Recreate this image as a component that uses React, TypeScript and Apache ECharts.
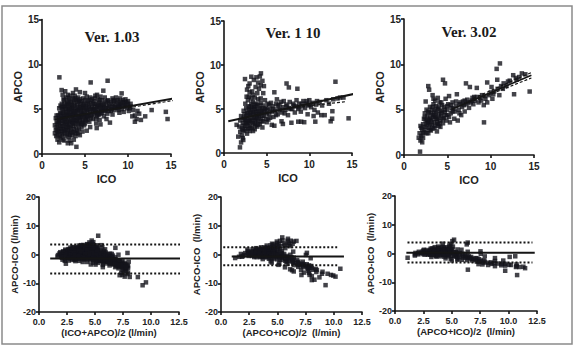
import React, { useEffect, useRef } from "react";
import * as echarts from "echarts";

// Paired measurements (ICO, APCO) in l/min for each software version
const ver103: number[][] = [
  [1.5, 2.3], [1.6, 2.7], [1.5, 3.2], [1.7, 3.6], [1.6, 4.0], [1.8, 1.6], [1.8, 2.1], [1.9, 2.9], [1.8, 3.4], [1.9, 4.3],
  [2.0, 1.3], [2.0, 2.5], [2.1, 3.1], [2.0, 3.8], [2.1, 4.6], [2.0, 5.1], [2.02, 8.55], [2.2, 1.8], [2.3, 2.2], [2.2, 2.8],
  [2.4, 3.4], [2.3, 4.0], [2.2, 4.5], [2.4, 5.0], [2.3, 5.6], [2.5, 6.1], [2.4, 6.6], [2.28, 7.13], [2.6, 1.5], [2.7, 2.0],
  [2.6, 2.5], [2.8, 3.0], [2.7, 3.6], [2.6, 4.2], [2.8, 4.7], [2.7, 5.3], [2.9, 5.8], [2.8, 6.3], [2.7, 7.0], [3.0, 1.2],
  [3.1, 1.9], [3.0, 2.4], [3.2, 2.9], [3.1, 3.3], [3.0, 3.8], [3.2, 4.4], [3.1, 4.9], [3.3, 5.4], [3.2, 6.0], [3.0, 6.6],
  [3.4, 1.2], [3.5, 2.1], [3.4, 2.6], [3.6, 3.1], [3.5, 3.6], [3.4, 4.1], [3.6, 4.6], [3.5, 5.2], [3.7, 5.7], [3.6, 6.2],
  [3.9, 2.0], [3.8, 2.5], [4.0, 3.0], [3.9, 3.5], [3.8, 4.0], [4.0, 4.5], [3.9, 5.0], [4.1, 5.5], [4.0, 6.0], [3.95, 7.2],
  [4.0, 0.8], [4.2, 2.3], [4.3, 2.8], [4.2, 3.3], [4.4, 3.8], [4.3, 4.3], [4.5, 4.8], [4.4, 5.3], [4.3, 5.9], [4.6, 3.0],
  [4.7, 3.6], [4.6, 4.1], [4.8, 4.6], [4.7, 5.1], [4.9, 5.6], [4.8, 6.2], [5.0, 3.4], [5.1, 3.9], [5.0, 4.4], [5.2, 4.9],
  [5.1, 5.4], [5.3, 5.9], [5.2, 6.4], [5.5, 3.6], [5.4, 4.2], [5.6, 4.7], [5.5, 5.2], [5.7, 5.7], [5.66, 7.98], [5.6, 6.3],
  [5.9, 3.9], [6.0, 4.4], [5.9, 4.9], [6.1, 5.4], [6.0, 5.9], [6.2, 6.5], [6.36, 2.89], [6.3, 3.4], [6.4, 4.2], [6.5, 4.7],
  [6.4, 5.2], [6.6, 5.7], [6.5, 6.1], [6.7, 3.8], [6.8, 4.5], [6.9, 5.0], [6.8, 5.5], [7.0, 6.0], [7.13, 7.06], [7.2, 4.2],
  [7.3, 4.8], [7.2, 5.3], [7.4, 5.8], [7.3, 6.3], [7.63, 8.17], [7.6, 4.5], [7.7, 5.1], [7.8, 5.6], [7.7, 6.0], [7.9, 3.5],
  [8.0, 4.8], [8.1, 5.3], [8.0, 5.8], [8.2, 6.2], [8.4, 4.9], [8.5, 5.4], [8.4, 5.9], [8.6, 6.3], [8.8, 5.1], [8.9, 5.6],
  [8.8, 6.0], [9.0, 5.3], [9.2, 5.8], [9.26, 6.76], [9.3, 5.0], [9.5, 5.5], [9.4, 6.0], [9.7, 5.3], [9.8, 5.8], [10.0, 5.5],
  [10.2, 5.1], [10.6, 4.9], [11.1, 4.8], [12.75, 4.9], [14.4, 4.7], [14.6, 3.9],
  [2.1, 2.0], [2.5, 2.8], [2.5, 3.7], [2.4, 4.6], [2.6, 5.6], [2.9, 2.2], [2.9, 3.3], [2.9, 4.3], [3.0, 5.1], [3.3, 2.4],
  [3.3, 3.6], [3.3, 4.7], [3.4, 5.8], [3.7, 2.8], [3.7, 3.8], [3.7, 4.8], [3.8, 6.5], [4.1, 2.6], [4.1, 3.7], [4.2, 4.9],
  [4.2, 6.3], [4.5, 3.3], [4.5, 4.4], [4.5, 5.6], [4.9, 3.2], [4.9, 4.2], [4.9, 5.1], [5.3, 3.8], [5.3, 4.6], [5.3, 5.6],
  [5.8, 4.4], [5.8, 5.2], [6.2, 4.7], [6.2, 5.6], [6.6, 4.4], [6.6, 5.3], [7.0, 4.6], [7.0, 5.5], [7.5, 5.4], [8.3, 5.6],
  [8.7, 5.8], [9.1, 5.5], [9.6, 5.8], [10.0, 5.9], [10.3, 5.6], [4.4, 6.9], [3.6, 6.8], [5.0, 6.8], [6.4, 6.6], [6.8, 6.4],
  [6.3, 3.9], [6.35, 4.6], [9.5, 4.7], [10.1, 4.8], [11.5, 3.8], [12.0, 4.2], [10.8, 4.3],
  [1.7, 3.0], [1.9, 2.5], [2.0, 3.4], [2.2, 4.1], [2.3, 5.2], [2.5, 4.2], [2.5, 5.2], [2.6, 6.0], [2.8, 4.0], [2.8, 5.0],
  [3.0, 4.5], [3.0, 5.6], [3.1, 6.2], [3.2, 3.7], [3.3, 6.5], [3.5, 4.3], [3.5, 5.5], [3.6, 3.4], [3.8, 4.4], [3.8, 5.4],
  [3.9, 6.2], [4.0, 3.8], [4.1, 4.8], [4.2, 5.8], [4.4, 4.1], [4.4, 6.1], [4.6, 4.6], [4.6, 5.9], [4.8, 3.8], [4.8, 5.3],
  [5.0, 6.0], [5.2, 4.2], [5.4, 5.0], [5.5, 6.0], [5.7, 4.0], [5.8, 6.1], [6.0, 5.0], [6.1, 6.2], [6.3, 5.0], [6.5, 5.5],
  [6.7, 6.0], [6.9, 4.8], [7.1, 5.2], [7.4, 4.9], [7.6, 5.9], [7.8, 4.8], [8.1, 5.0], [8.3, 6.0], [8.6, 5.2], [8.9, 4.9],
  [9.1, 6.2], [9.4, 5.3], [9.7, 6.1], [9.9, 5.1], [10.3, 5.3], [9.0, 4.6], [8.2, 4.4], [7.5, 3.9], [6.8, 3.3], [5.6, 3.0],
  [5.2, 2.6], [4.7, 2.5], [4.4, 2.1], [3.7, 1.6], [3.2, 1.5], [2.4, 1.6], [10.5, 4.2], [11.0, 3.9], [11.3, 4.5], [10.8, 3.6],
  [1.65, 2.0], [1.75, 2.6], [1.7, 4.3], [1.95, 3.6], [2.05, 4.0], [2.15, 5.4], [2.2, 3.7], [2.35, 2.6], [2.35, 3.1], [2.45, 2.3],
  [2.55, 3.2], [2.55, 4.7], [2.65, 3.9], [2.75, 2.7], [2.75, 4.4], [2.85, 5.4], [2.85, 3.5], [2.95, 2.7], [3.05, 3.0], [3.05, 4.2],
  [3.15, 5.6], [3.25, 2.1], [3.25, 5.0], [3.35, 3.1], [3.35, 4.4], [3.45, 5.0], [3.55, 2.4], [3.55, 3.9], [3.65, 5.2], [3.75, 3.4],
  [3.75, 6.0], [3.85, 4.7], [3.95, 2.3], [4.05, 4.2], [4.15, 5.2], [4.25, 4.0], [4.35, 3.5], [4.35, 5.0], [4.55, 5.2], [4.65, 3.4],
  [4.75, 4.3], [4.75, 5.6], [4.95, 4.8], [5.05, 3.7], [5.15, 5.1], [5.35, 4.3], [5.45, 5.5], [5.65, 4.3], [5.75, 5.0], [5.95, 5.6],
  [6.15, 4.9], [6.45, 4.4], [6.75, 5.1], [7.15, 5.6], [7.45, 5.1], [7.9, 5.3], [8.4, 5.2], [8.9, 5.3], [9.3, 5.7], [9.9, 5.6],
];

const ver110: number[][] = [
  [1.48, 3.2], [1.67, 1.86], [1.87, 0.64], [2.26, 1.48], [1.9, 2.4], [2.0, 1.2], [2.1, 2.0], [2.2, 1.7],
  [2.46, 8.4], [3.2, 8.67], [3.8, 8.6], [4.33, 9.05], [4.2, 8.7], [4.5, 8.2], [4.68, 7.6], [2.85, 7.6], [2.65, 6.4], [2.7, 7.2],
  [3.0, 7.9], [3.5, 8.3], [4.0, 8.0], [3.3, 7.0], [4.1, 7.3], [3.9, 6.8], [4.6, 6.8], [3.0, 6.9], [2.8, 6.0], [3.6, 6.3],
  [1.8, 3.0], [1.9, 3.7], [2.0, 4.2], [2.1, 2.8], [2.2, 3.4], [2.3, 4.0], [2.3, 4.8], [2.4, 2.5], [2.5, 3.1], [2.5, 3.7],
  [2.4, 4.4], [2.6, 5.1], [2.5, 5.6], [2.7, 2.2], [2.8, 2.8], [2.7, 3.4], [2.8, 4.0], [2.7, 4.6], [2.9, 5.3], [3.0, 2.5],
  [3.0, 3.1], [3.1, 3.7], [3.0, 4.3], [3.1, 4.9], [3.2, 5.6], [3.2, 6.2], [3.3, 2.9], [3.4, 3.4], [3.3, 4.0], [3.4, 4.6],
  [3.5, 5.2], [3.4, 5.8], [3.6, 2.7], [3.7, 3.2], [3.6, 3.8], [3.7, 4.4], [3.8, 5.0], [3.7, 5.6], [3.9, 3.0], [4.0, 3.6],
  [3.9, 4.2], [4.0, 4.8], [4.1, 5.4], [4.0, 6.1], [4.2, 3.3], [4.3, 3.9], [4.2, 4.5], [4.4, 5.1], [4.3, 5.7], [4.5, 2.9],
  [4.6, 3.6], [4.5, 4.2], [4.7, 4.8], [4.6, 5.4], [4.8, 6.0], [4.9, 3.9], [5.0, 4.5], [4.9, 5.1], [5.1, 5.6],
  [5.2, 3.8], [5.3, 4.4], [5.4, 5.0], [5.3, 5.5], [5.6, 3.2], [5.6, 4.7], [5.7, 5.3], [5.9, 6.9], [5.8, 4.1], [6.0, 4.8],
  [6.1, 5.6], [6.2, 6.1], [6.3, 4.4], [6.4, 5.0], [6.5, 5.5], [6.74, 3.6], [6.8, 4.6], [6.9, 5.2], [7.0, 5.9], [7.33, 7.9],
  [7.6, 7.45], [7.2, 4.9], [7.3, 5.5], [7.5, 4.3], [7.6, 5.1], [7.7, 5.8], [7.9, 3.44], [8.0, 5.0], [8.1, 5.6], [8.3, 4.6],
  [8.4, 5.3], [8.5, 6.0], [8.6, 7.3], [8.7, 3.56], [8.7, 5.0], [8.8, 5.6], [9.04, 3.56], [9.0, 4.7], [9.2, 5.3], [9.3, 5.9],
  [9.4, 3.5], [9.5, 5.1], [9.6, 5.6], [9.8, 4.4], [9.9, 5.4], [10.0, 6.0], [10.2, 5.2], [10.4, 5.7], [10.6, 4.9], [10.7, 3.56],
  [10.5, 4.2], [10.8, 5.5], [11.0, 4.6], [11.4, 4.3], [11.2, 5.8], [11.5, 5.4], [11.8, 4.3], [12.0, 6.0], [12.3, 5.6], [12.5, 3.6],
  [12.67, 3.9], [12.7, 4.75], [12.8, 6.1], [13.06, 8.1], [13.3, 6.2], [13.6, 6.3], [14.0, 6.3], [14.6, 3.94], [6.9, 3.3], [5.9, 3.1],
  [3.1, 4.4], [3.5, 4.0], [2.9, 3.6], [3.8, 3.7], [4.4, 4.6], [3.3, 5.1], [2.6, 4.2], [4.1, 4.1], [3.6, 5.0], [2.2, 2.6],
  [2.3, 3.1], [2.4, 3.8], [2.6, 2.7], [2.6, 3.5], [2.8, 3.3], [2.8, 4.5], [2.9, 4.9], [3.0, 3.7], [3.1, 2.8], [3.1, 5.3],
  [3.2, 4.6], [3.3, 3.5], [3.4, 2.5], [3.5, 4.6], [3.6, 3.3], [3.6, 5.4], [3.8, 4.0], [3.8, 4.6], [3.9, 5.5], [4.0, 3.2],
  [4.1, 4.4], [4.2, 5.0], [4.3, 6.2], [4.4, 3.6], [4.5, 4.8], [4.7, 4.2], [4.8, 5.0], [5.0, 3.5], [5.1, 4.9], [5.4, 4.0],
  [5.5, 5.7], [5.8, 5.0], [6.1, 4.3], [6.3, 5.4], [6.6, 4.9], [6.7, 5.8], [7.1, 4.5], [7.4, 5.3], [7.8, 5.0], [8.2, 5.4],
  [8.8, 5.2], [9.1, 5.6], [9.7, 5.9], [10.1, 5.5], [10.9, 5.9], [2.9, 6.4], [3.4, 6.6], [3.7, 7.5], [4.3, 7.7],
];

const ver302: number[][] = [
  [1.85, 0.37], [1.7, 1.9], [1.8, 2.4], [1.9, 1.6], [2.0, 2.1], [2.1, 1.4], [2.2, 1.9], [2.3, 2.5], [1.9, 3.2], [2.0, 3.0],
  [2.1, 2.8], [2.2, 3.4], [2.3, 4.0], [2.4, 4.6], [2.5, 2.8], [2.6, 3.3], [2.5, 3.8], [2.7, 4.3], [2.6, 5.0], [2.8, 2.4],
  [2.9, 3.0], [2.8, 3.6], [3.0, 4.1], [2.9, 4.7], [3.0, 5.3], [2.8, 7.6], [2.9, 7.2], [3.1, 2.7], [3.2, 3.3], [3.1, 3.9],
  [3.3, 4.4], [3.2, 5.0], [3.4, 5.6], [3.4, 6.2], [3.5, 3.0], [3.5, 3.6], [3.6, 4.2], [3.5, 4.8], [3.7, 5.4], [3.6, 6.0],
  [3.8, 2.6], [3.9, 3.4], [3.8, 4.0], [4.0, 4.5], [3.9, 5.1], [4.1, 5.8], [4.2, 3.1], [4.2, 3.8], [4.3, 4.3], [4.2, 4.9],
  [4.4, 5.5], [4.5, 8.3], [4.73, 7.9], [4.5, 3.5], [4.6, 4.1], [4.7, 4.7], [4.6, 5.3], [4.8, 6.2], [4.9, 3.8], [5.0, 4.4],
  [5.0, 5.0], [5.1, 5.6], [5.2, 6.5], [3.3, 6.6], [3.9, 6.3], [2.5, 5.9],
  [5.3, 3.6], [5.4, 4.6], [5.5, 5.2], [5.6, 5.8], [5.8, 4.0], [5.9, 4.8], [6.0, 5.4], [6.1, 6.7], [6.2, 3.8], [6.3, 5.0],
  [6.4, 5.6], [6.6, 4.4], [6.7, 5.3], [6.8, 5.9], [7.0, 4.8], [7.15, 7.9], [7.2, 5.6], [7.3, 6.1], [7.6, 7.5], [7.5, 5.2],
  [7.7, 5.8], [7.9, 6.3], [8.0, 5.6], [8.2, 6.0], [8.4, 7.4], [8.4, 6.4], [8.6, 5.8], [8.8, 6.3], [9.0, 6.6], [9.23, 3.6],
  [9.2, 5.5], [9.4, 6.2], [9.6, 5.8], [9.8, 6.6], [10.0, 6.9], [10.2, 6.2], [10.4, 7.0], [10.69, 9.5], [10.76, 8.3], [11.07, 10.1],
  [10.8, 7.3], [11.0, 6.6], [11.2, 7.6], [11.5, 7.9], [11.8, 7.6], [12.0, 8.1], [12.6, 8.8], [12.7, 6.7], [12.9, 8.5], [13.3, 8.6],
  [14.0, 8.9], [14.5, 7.0], [9.6, 8.0], [10.1, 7.5], [3.4, 4.2], [3.0, 3.4], [2.7, 3.8], [4.0, 3.2], [3.7, 4.6], [4.4, 4.8],
  [2.2, 2.4], [2.4, 3.1], [2.4, 4.2], [2.6, 2.4], [2.7, 3.5], [2.8, 4.8], [2.9, 3.9], [3.0, 2.8], [3.1, 4.6], [3.2, 3.7],
  [3.3, 2.9], [3.3, 5.3], [3.5, 4.4], [3.6, 3.2], [3.7, 4.0], [3.7, 5.0], [3.8, 3.6], [4.0, 4.1], [4.0, 5.3], [4.1, 3.5],
  [4.3, 4.6], [4.3, 5.8], [4.5, 4.0], [4.7, 5.0], [4.8, 4.4], [5.0, 5.4], [5.2, 4.2], [5.4, 5.5], [5.7, 5.1], [6.0, 5.9],
  [6.5, 5.8], [7.0, 6.0], [7.4, 5.8], [7.8, 6.0], [8.1, 6.4], [8.9, 6.0], [9.3, 6.5], [10.3, 6.7], [11.4, 7.3], [12.2, 8.2],
  [13.0, 8.3], [13.6, 9.0], [6.4, 4.6], [6.9, 5.5], [5.6, 4.8],
];

// Regression lines [ICO, APCO] end points
const fit103 = [[1.5, 3.86], [17.4, 6.55]];
const fit103Band = [[10.0, 5.15], [17.4, 6.3]];
const fit110 = [[0.5, 3.6], [16.1, 6.9]];
const fit110Band = [[8.0, 5.15], [14.4, 5.85]];
const fit302 = [[5.5, 5.05], [14.7, 8.8]];
const fit302Upper = [[8.0, 6.25], [14.7, 9.1]];
const fit302Lower = [[8.0, 5.95], [14.7, 8.5]];

// Bland-Altman bias and 95% limits of agreement: [bias, upper, lower]
const limits103 = [-1.4, 3.5, -6.6];
const limits110 = [-0.7, 2.5, -3.7];
const limits302 = [0.3, 3.8, -3.1];
// x-extent of bias line and limit lines
const span103 = { bias: [1.0, 13.7], lim: [1.0, 12.6] };
const span110 = { bias: [0.95, 10.9], lim: [0.2, 10.3] };
const span302 = { bias: [1.0, 12.3], lim: [1.1, 12.1] };

const titles = ["Ver. 1.03", "Ver. 1 10", "Ver. 3.02"];
const baXNames = ["(ICO+APCO)/2 (l/min)", "(APCO+ICO)/2  (l/min)", "(APCO+ICO)/2  (l/min)"];
const baYNames = ["APCO-ICO (l/min)", "APCO-ICO  (l/min)", "APCO-ICO  (l/min)"];

const blandAltman = (pts: number[][]) => pts.map(([ico, apco]) => [(ico + apco) / 2, apco - ico]);

const INK = "#151515";
const DOT = "#14141c";
const SANS = "Liberation Sans, Arial, sans-serif";

function axisBase(fontSize: number, margin: number) {
  return {
    axisLine: { show: true, onZero: false, lineStyle: { color: INK, width: 1.6 } },
    axisTick: { show: true, length: 3, lineStyle: { color: INK, width: 1.6 } },
    axisLabel: { color: "#222", fontWeight: "bold", fontFamily: SANS, fontSize, margin },
    splitLine: { show: false },
    nameLocation: "middle",
  };
}

export default function App() {
  const ref = useRef<HTMLDivElement>(null);

  useEffect(() => {
    if (!ref.current) return;
    const chart = echarts.init(ref.current, null, { renderer: "svg" });

    const grids = [
      { left: 42, top: 19.5, width: 129, height: 134.5 },
      { left: 224, top: 21, width: 128, height: 132 },
      { left: 404, top: 19, width: 130, height: 136 },
      { left: 39, top: 197, width: 140, height: 115 },
      { left: 221, top: 197, width: 141, height: 115 },
      { left: 395, top: 196, width: 142, height: 115 },
    ];
    const topYGap = [18, 17, 18];
    const baYGap = [14, 15, 15];

    const xAxis: any[] = [];
    const yAxis: any[] = [];
    for (let i = 0; i < 3; i++) {
      xAxis.push({
        ...axisBase(10, 6), gridIndex: i, type: "value", min: 0, max: 15, interval: 5,
        name: "ICO", nameGap: 19,
        nameTextStyle: { fontWeight: "bold", fontFamily: SANS, fontSize: 11, color: "#222" },
      });
      yAxis.push({
        ...axisBase(10, 3), gridIndex: i, type: "value", min: 0, max: 15, interval: 5,
        name: "APCO", nameGap: topYGap[i],
        nameTextStyle: { fontWeight: "bold", fontFamily: SANS, fontSize: 11, color: "#222" },
      });
    }
    for (let i = 0; i < 3; i++) {
      xAxis.push({
        ...axisBase(9, 5), gridIndex: 3 + i, type: "value", min: 0, max: 12.5, interval: 2.5,
        axisLabel: { ...axisBase(9, 5).axisLabel, formatter: (v: number) => v.toFixed(1) },
        name: baXNames[i], nameGap: 15,
        nameTextStyle: { fontWeight: "bold", fontFamily: SANS, fontSize: 9.5, color: "#222" },
      });
      yAxis.push({
        ...axisBase(9, 3), gridIndex: 3 + i, type: "value", min: -20, max: 20, interval: 10,
        name: baYNames[i], nameGap: baYGap[i],
        nameTextStyle: { fontWeight: "bold", fontFamily: SANS, fontSize: 9.5, color: "#222" },
      });
    }

    const scatter = (idx: number, data: number[][]) => ({
      type: "scatter", xAxisIndex: idx, yAxisIndex: idx, data,
      symbol: "rect", symbolSize: 4.5, itemStyle: { color: DOT }, silent: true,
    });
    const seg = (idx: number, data: number[][], type: any, width: number, z = 3) => ({
      type: "line", xAxisIndex: idx, yAxisIndex: idx, data, showSymbol: false, symbol: "none",
      clip: false, silent: true, z,
      lineStyle: { color: INK, width, type },
    });
    const baLines = (idx: number, lim: number[], span: { bias: number[]; lim: number[] }) => [
      seg(idx, [[span.bias[0], lim[0]], [span.bias[1], lim[0]]], "solid", 2),
      seg(idx, [[span.lim[0], lim[1]], [span.lim[1], lim[1]]], [2, 2], 2),
      seg(idx, [[span.lim[0], lim[2]], [span.lim[1], lim[2]]], [2, 2], 2),
    ];

    const series: any[] = [
      scatter(0, ver103),
      seg(0, fit103, "solid", 2),
      seg(0, fit103Band, [3, 2], 1.2),
      scatter(1, ver110),
      seg(1, fit110, "solid", 2),
      seg(1, fit110Band, [3, 2], 1.2),
      scatter(2, ver302),
      seg(2, fit302, "solid", 1.6),
      seg(2, fit302Upper, [3, 2], 1.2),
      seg(2, fit302Lower, [3, 2], 1.2),
      scatter(3, blandAltman(ver103)),
      ...baLines(3, limits103, span103),
      scatter(4, blandAltman(ver110)),
      ...baLines(4, limits110, span110),
      scatter(5, blandAltman(ver302)),
      ...baLines(5, limits302, span302),
    ];

    const titleCenters = [[112, 37], [293, 33], [469, 32]];

    chart.setOption({
      animation: false,
      backgroundColor: "#ffffff",
      grid: grids,
      xAxis,
      yAxis,
      series,
      graphic: [
        {
          type: "rect", shape: { x: 2, y: 6, width: 570, height: 338 },
          style: { fill: "none", stroke: "#8a8a8a", lineWidth: 1.5 }, silent: true,
        },
        ...titles.map((t, i) => ({
          type: "text", x: titleCenters[i][0], y: titleCenters[i][1],
          style: {
            text: t, fill: "#1a1a1a", font: "bold 15px 'Liberation Serif', 'Times New Roman', serif",
            textAlign: "center", textVerticalAlign: "middle",
          },
          silent: true,
        })),
      ],
    });

    return () => chart.dispose();
  }, []);

  return (
    <div
      ref={ref}
      style={{ position: "fixed", left: 0, top: 0, width: 578, height: 349, background: "#fff" }}
    />
  );
}
